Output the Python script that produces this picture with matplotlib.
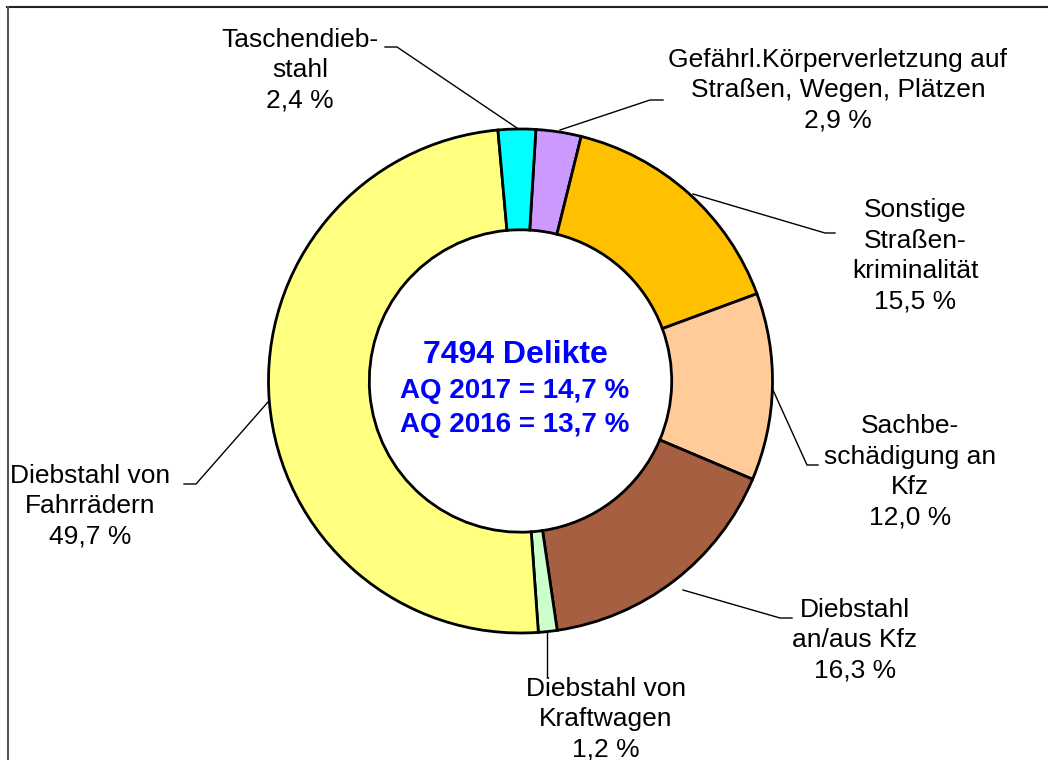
import matplotlib.pyplot as plt
from matplotlib.lines import Line2D

plt.rcParams['font.family'] = ['Liberation Sans', 'DejaVu Sans']

labels = ['Gefährl.Körperverletzung auf\nStraßen, Wegen, Plätzen',
          'Sonstige\nStraßen-\nkriminalität',
          'Sachbe-\nschädigung an\nKfz',
          'Diebstahl\nan/aus Kfz',
          'Diebstahl von\nKraftwagen',
          'Diebstahl von\nFahrrädern',
          'Taschendieb-\nstahl']
shares = [2.9, 15.5, 12.0, 16.3, 1.2, 49.7, 2.4]
colors = ['#CC99FF', '#FFC000', '#FFCC99', '#A65F40', '#CCFFCC', '#FFFF80', '#00FFFF']

center_lines = ['7494 Delikte', 'AQ 2017 = 14,7 %', 'AQ 2016 = 13,7 %']

H = 760
fig = plt.figure(figsize=(10.48, 7.6), dpi=100)
ax = fig.add_axes([0, 0, 1, 1])

cx, cy, R = 520.5, H - 381, 252
ax.pie(shares, colors=colors, startangle=86.5, counterclock=False,
       center=(cx, cy), radius=R,
       wedgeprops=dict(width=R * 0.4, edgecolor='black', linewidth=2))
ax.set_xlim(0, 1048)
ax.set_ylim(0, H)
ax.set_aspect('equal')
ax.axis('off')

# label positions and leader lines (image pixel coords)
label_pos = [(838, 90), (915, 256), (910, 472), (855, 640), (606, 719), (90, 506), (300, 70)]
leaders = [
    [(560, 130), (650, 100), (663, 100)],
    [(693, 194), (825, 233), (835, 233)],
    [(773, 390), (807, 465), (818, 465)],
    [(683, 590), (780, 618), (792, 618)],
    [(547, 633), (547, 676)],
    [(268, 402), (196, 484), (184, 484)],
    [(517, 128), (397, 47), (385, 47)],
]

for lab, s, (x, y), pts in zip(labels, shares, label_pos, leaders):
    txt = lab + '\n' + f'{s:.1f}'.replace('.', ',') + ' %'
    ax.text(x, H - y, txt, ha='center', va='center', fontsize=19,
            linespacing=1.34, color='black')
    ax.plot([p[0] for p in pts], [H - p[1] for p in pts], color='black', lw=1)

ax.text(515, H - 363, center_lines[0], ha='center', va='baseline',
        fontsize=23, fontweight='bold', color='#0000FF')
ax.text(515, H - 398, center_lines[1], ha='center', va='baseline',
        fontsize=20, fontweight='bold', color='#0000FF')
ax.text(515, H - 432, center_lines[2], ha='center', va='baseline',
        fontsize=20, fontweight='bold', color='#0000FF')

# frame at top and left
fig.add_artist(Line2D([7 / 1048, 1], [1 - 7 / H, 1 - 7 / H], color='#222222', lw=1.5,
                      transform=fig.transFigure))
fig.add_artist(Line2D([7.5 / 1048, 7.5 / 1048], [0, 1 - 7 / H], color='#555555', lw=1.5,
                      transform=fig.transFigure))

fig.savefig('out.png', dpi=100)
